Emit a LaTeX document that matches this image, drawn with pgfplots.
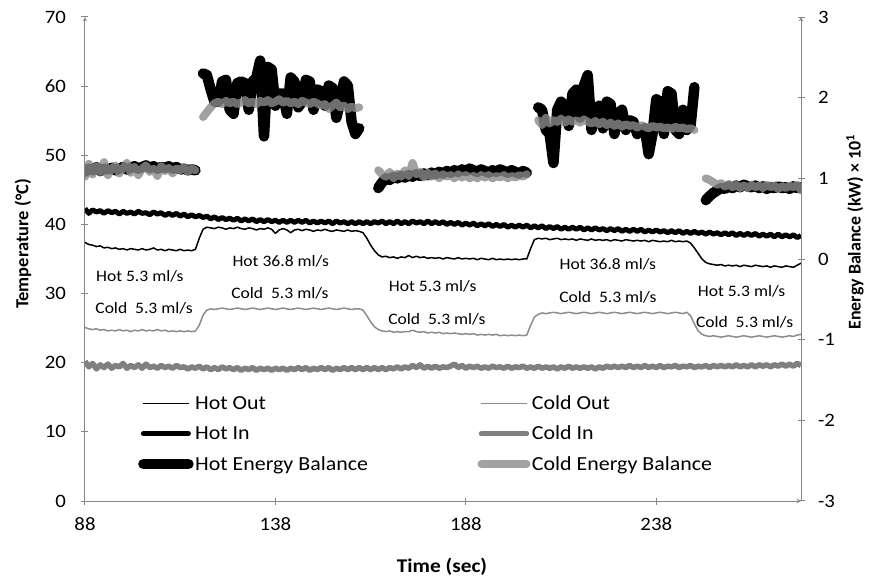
\documentclass[border=0pt]{standalone}
\usepackage{pgfplots}
\pgfplotsset{compat=1.18}
\usepackage{pgfplotstable}
\usepackage{fontspec}
\setmainfont{Carlito}[FakeStretch=1.1]
\newfontfamily\plainfont{Carlito}
\definecolor{axgray}{RGB}{134,134,134}
\definecolor{coldout}{RGB}{140,140,140}
\definecolor{coldin}{RGB}{128,128,128}
\definecolor{coldeb}{RGB}{138,138,138}
\tikzset{ann/.style={font=\fontsize{16}{19}\selectfont}}

\pgfplotstableread{
t ho hi co ci he ce
88 37.4 42.3 25.1 20.2 1.08 1.02
89 37.1 41.6 24.9 19.4 1.12 1.18
90 37.0 42.1 24.8 19.9 1.10 1.05
91 36.8 41.8 24.9 19.1 1.14 1.15
92 36.9 42.0 24.7 19.7 1.09 1.08
93 36.6 41.6 24.8 19.3 1.12 1.20
94 36.7 42.0 24.6 19.8 1.11 1.04
95 36.5 41.7 24.7 19.2 1.13 1.12
96 36.6 41.9 24.6 19.6 1.10 1.16
97 36.4 41.5 24.8 19.4 1.12 1.06
98 36.5 41.9 24.6 19.9 1.14 1.13
99 36.3 41.6 24.7 19.2 1.11 1.19
100 36.5 41.8 24.5 19.6 1.13 1.07
101 36.4 41.5 24.7 19.3 1.15 1.14
102 36.3 41.9 24.6 19.7 1.12 1.04
103 36.5 41.6 24.8 19.2 1.14 1.12
104 36.3 41.7 24.6 19.8 1.16 1.16
105 36.4 41.4 24.7 19.3 1.13 1.08
106 36.6 41.8 24.6 19.5 1.15 1.12
107 36.3 41.5 24.8 19.2 1.12 1.03
108 36.4 41.7 24.6 19.6 1.14 1.15
109 36.2 41.3 24.7 19.3 1.13 1.09
110 36.4 41.6 24.5 19.5 1.15 1.13
111 36.3 41.3 24.6 19.2 1.12 1.06
112 36.2 41.6 24.5 19.6 1.14 1.12
113 36.4 41.2 24.6 19.3 1.11 1.10
114 36.2 41.5 24.5 19.4 1.12 1.14
115 36.3 41.1 24.6 19.1 1.10 1.08
116 36.2 41.4 24.5 19.4 1.11 1.12
117 36.4 41.1 24.6 19.2 1.10 1.10
118 38.0 41.3 25.4 19.5 nan nan
119 39.3 41.0 26.9 19.1 2.30 1.76
120 39.6 41.2 27.6 19.4 2.28 1.82
121 39.5 40.8 27.8 19.0 2.10 1.88
122 39.4 41.1 27.7 19.3 1.95 1.93
123 39.6 40.7 27.8 19.0 1.95 1.95
124 39.5 41.0 27.9 19.4 2.20 1.92
125 39.3 40.7 27.8 19.1 2.22 1.96
126 39.5 40.9 27.7 19.3 1.85 1.93
127 39.4 40.6 27.8 19.0 1.80 1.95
128 39.6 40.9 27.9 19.3 2.18 1.92
129 39.4 40.5 27.8 18.9 2.20 1.94
130 39.3 40.8 27.7 19.2 2.18 1.97
131 39.5 40.5 27.8 19.0 1.85 1.93
132 39.4 40.8 27.9 19.3 2.20 1.95
133 39.2 40.4 27.8 18.9 2.25 1.92
134 39.4 40.7 27.7 19.2 2.46 1.96
135 39.3 40.4 27.8 19.0 1.52 1.94
136 39.5 40.7 27.9 19.2 2.38 1.97
137 39.3 40.4 27.8 18.9 2.35 1.93
138 38.7 40.6 27.7 19.2 1.90 1.95
139 39.2 40.3 27.8 19.0 2.05 1.98
140 39.4 40.6 27.9 19.2 2.05 1.94
141 39.2 40.3 27.8 18.9 1.80 1.96
142 38.8 40.6 27.7 19.2 2.25 1.93
143 39.2 40.3 27.8 19.0 2.20 1.95
144 39.3 40.6 27.9 19.3 1.88 1.92
145 39.1 40.3 27.8 19.0 1.95 1.96
146 39.3 40.6 27.7 19.3 2.22 1.94
147 39.2 40.2 27.8 18.9 2.20 1.92
148 39.0 40.5 27.9 19.2 1.85 1.95
149 39.2 40.2 27.8 19.0 2.10 1.93
150 39.1 40.5 27.7 19.3 2.08 1.90
151 39.3 40.2 27.8 19.0 1.90 1.92
152 39.1 40.5 27.9 19.3 2.15 1.86
153 39.0 40.1 27.8 18.9 2.12 1.90
154 39.2 40.5 27.7 19.2 1.75 1.94
155 39.1 40.2 27.8 19.0 1.95 1.88
156 39.0 40.4 27.9 19.3 2.20 1.90
157 39.2 40.1 27.8 19.0 2.15 1.86
158 39.0 40.4 27.7 19.3 1.70 1.89
159 39.1 40.1 27.8 19.0 1.55 1.87
160 39.0 40.4 27.8 19.3 1.62 1.88
161 38.8 40.1 27.6 19.0 nan nan
162 38.0 40.4 26.8 19.3 nan nan
163 37.0 40.1 25.9 19.0 nan nan
164 36.2 40.4 25.2 19.3 nan nan
165 35.6 40.2 24.8 19.0 0.88 1.10
166 35.3 40.5 24.6 19.3 0.95 1.05
167 35.4 40.1 24.5 19.0 1.00 1.02
168 35.2 40.4 24.6 19.3 0.98 1.08
169 35.3 40.1 24.4 19.1 1.02 1.00
170 35.1 40.5 24.5 19.4 1.00 1.06
171 35.3 40.1 24.4 19.1 1.03 1.02
172 35.2 40.4 24.5 19.4 1.01 1.10
173 35.5 40.1 24.5 19.2 1.04 1.03
174 35.2 40.5 24.7 19.6 1.02 1.19
175 35.4 40.2 24.5 19.3 1.05 1.05
176 35.2 40.4 24.4 19.7 1.03 1.08
177 35.3 40.1 24.5 19.2 1.06 1.01
178 35.1 40.5 24.3 19.5 1.04 1.07
179 35.2 40.1 24.4 19.2 1.07 1.02
180 35.1 40.4 24.3 19.5 1.05 1.06
181 35.2 40.1 24.4 19.2 1.08 1.00
182 35.0 40.4 24.2 19.4 1.06 1.05
183 35.2 40.0 24.3 19.3 1.09 1.02
184 35.1 40.3 24.2 19.5 1.07 1.04
185 35.0 40.0 24.3 19.8 1.10 1.00
186 35.2 40.3 24.2 19.3 1.08 1.05
187 35.0 39.9 24.1 19.6 1.11 1.01
188 35.1 40.2 24.2 19.2 1.09 1.04
189 35.0 39.9 24.1 19.5 1.12 1.00
190 35.1 40.2 24.2 19.3 1.10 1.03
191 34.9 39.8 24.0 19.5 1.08 1.00
192 35.1 40.1 24.1 19.2 1.11 1.04
193 35.0 39.8 24.0 19.4 1.09 1.01
194 34.9 40.1 24.1 19.2 1.07 1.04
195 35.1 39.7 24.0 19.5 1.10 1.00
196 34.9 40.0 24.1 19.3 1.08 1.03
197 35.0 39.7 23.9 19.4 1.11 1.01
198 34.9 40.0 24.0 19.2 1.09 1.04
199 35.0 39.6 23.9 19.5 1.07 1.00
200 34.9 39.9 24.0 19.2 1.10 1.03
201 35.0 39.6 23.9 19.4 1.08 1.01
202 34.9 39.9 24.0 19.3 1.06 1.04
203 35.0 39.6 23.9 19.5 1.09 1.02
204 35.0 39.9 24.0 19.2 1.07 1.05
205 36.5 39.5 25.4 19.4 nan nan
206 37.8 39.8 26.6 19.2 nan nan
207 38.0 39.5 27.0 19.5 1.88 1.72
208 37.9 39.8 27.2 19.2 1.85 1.66
209 38.0 39.4 27.1 19.4 1.60 1.75
210 37.8 39.7 27.2 19.2 1.55 1.68
211 37.9 39.4 27.3 19.4 1.19 1.72
212 38.0 39.7 27.2 19.1 1.85 1.70
213 37.8 39.3 27.1 19.4 1.95 1.74
214 37.9 39.6 27.2 19.2 1.90 1.69
215 37.8 39.3 27.3 19.5 1.65 1.73
216 37.9 39.6 27.2 19.2 2.05 1.70
217 37.7 39.3 27.1 19.4 2.10 1.72
218 37.9 39.6 27.2 19.2 1.75 1.69
219 37.8 39.2 27.3 19.4 2.15 1.73
220 37.7 39.5 27.2 19.2 2.28 1.70
221 37.9 39.2 27.1 19.4 1.60 1.68
222 37.7 39.5 27.2 19.1 1.85 1.71
223 37.8 39.2 27.3 19.4 1.90 1.67
224 37.7 39.4 27.2 19.2 1.62 1.70
225 37.8 39.1 27.1 19.5 1.95 1.66
226 37.6 39.4 27.2 19.3 1.92 1.69
227 37.8 39.1 27.3 19.5 1.55 1.65
228 37.7 39.4 27.2 19.3 1.80 1.68
229 37.6 39.0 27.1 19.5 1.85 1.64
230 37.8 39.3 27.2 19.3 1.60 1.67
231 37.7 39.0 27.3 19.6 1.72 1.65
232 37.6 39.3 27.2 19.3 1.70 1.66
233 37.7 39.0 27.1 19.5 1.55 1.63
234 37.6 39.3 27.2 19.3 1.60 1.66
235 37.7 38.9 27.3 19.6 1.62 1.64
236 37.5 39.2 27.2 19.3 1.30 1.62
237 37.7 38.9 27.1 19.5 1.55 1.65
238 37.6 39.2 27.2 19.3 1.98 1.63
239 37.5 38.9 27.3 19.6 1.95 1.64
240 37.6 39.1 27.2 19.3 1.55 1.62
241 37.5 38.8 27.1 19.5 2.08 1.63
242 37.7 39.1 27.2 19.4 2.05 1.61
243 37.5 38.8 27.3 19.6 1.60 1.64
244 37.6 39.1 27.2 19.3 1.55 1.62
245 37.5 38.7 27.1 19.5 1.85 1.63
246 37.6 39.0 27.3 19.4 1.60 1.61
247 37.3 38.7 26.8 19.6 1.65 1.62
248 36.6 39.0 25.6 19.3 2.13 1.60
249 35.8 38.7 24.6 19.5 nan nan
250 35.0 38.9 24.1 19.4 nan nan
251 34.5 38.6 23.9 19.6 0.73 1.00
252 34.3 38.9 23.8 19.3 0.78 0.98
253 34.2 38.6 23.9 19.6 0.82 0.95
254 34.1 38.8 23.8 19.4 0.85 0.92
255 34.2 38.5 23.7 19.6 0.88 0.94
256 34.0 38.8 23.8 19.4 0.87 0.90
257 34.1 38.5 23.9 19.6 0.90 0.93
258 34.0 38.8 23.8 19.4 0.88 0.89
259 34.1 38.4 23.7 19.7 0.91 0.92
260 33.9 38.7 23.8 19.4 0.89 0.88
261 34.1 38.4 23.9 19.6 0.92 0.91
262 34.0 38.7 23.8 19.4 0.90 0.88
263 33.9 38.4 23.7 19.7 0.89 0.92
264 34.1 38.7 23.8 19.4 0.91 0.89
265 34.0 38.3 23.9 19.7 0.88 0.91
266 33.9 38.6 23.8 19.5 0.90 0.88
267 34.0 38.3 23.7 19.7 0.87 0.92
268 33.8 38.6 23.8 19.4 0.89 0.89
269 34.0 38.2 23.9 19.7 0.88 0.91
270 33.9 38.6 23.8 19.5 0.90 0.87
271 33.8 38.2 23.7 19.8 0.88 0.90
272 34.0 38.5 23.8 19.5 0.89 0.88
273 33.9 38.2 23.9 19.8 0.87 0.91
274 33.8 38.5 23.8 19.5 0.90 0.89
275 34.1 38.1 24.0 19.9 0.88 0.92
276 34.4 38.4 24.1 19.6 0.89 0.85
}\data

\pgfplotsset{
  common/.style={
    scale only axis, width=716bp, height=484bp,
    xmin=88, xmax=276,
    axis line style={axgray, line width=1bp, -},
    tick align=outside, major tick length=7bp,
    tick style={axgray, line width=1bp},
    ticklabel style={font=\fontsize{19}{22}\selectfont},
    /pgf/number format/assume math mode=true,
    /pgf/number format/1000 sep={},
  }
}

\begin{document}
\begin{tikzpicture}
\path[use as bounding box] (-85bp,-76bp) rectangle (784bp,501bp);
\begin{axis}[common,
  ymin=0, ymax=70,
  axis x line=bottom, axis y line=left,
  xtick={88,138,188,238}, ytick={0,10,...,70},
  yticklabel style={xshift=-12bp},
  xticklabel style={yshift=-10bp},
]
\addplot[black, line width=1.5bp, line join=round] table[x=t,y=ho]{\data};
\addplot[coldout, line width=1.5bp, line join=round] table[x=t,y=co]{\data};
\addplot[black, line width=5bp, line join=round] table[x=t,y=hi]{\data};
\addplot[coldin, line width=5.5bp, line join=round] table[x=t,y=ci]{\data};
\node[ann] at (axis cs:102.4,32.5) {Hot 5.3 ml/s};
\node[ann] at (axis cs:103.5,27.9) {Cold\ \ 5.3 ml/s};
\node[ann] at (axis cs:139.4,34.6) {Hot 36.8 ml/s};
\node[ann] at (axis cs:139.2,30.1) {Cold\ \ 5.3 ml/s};
\node[ann] at (axis cs:179.3,31.1) {Hot 5.3 ml/s};
\node[ann] at (axis cs:180.4,26.3) {Cold\ \ 5.3 ml/s};
\node[ann] at (axis cs:225.3,34.3) {Hot 36.8 ml/s};
\node[ann] at (axis cs:225.3,29.4) {Cold\ \ 5.3 ml/s};
\node[ann] at (axis cs:260.4,30.4) {Hot 5.3 ml/s};
\node[ann] at (axis cs:261.2,25.9) {Cold\ \ 5.3 ml/s};
\end{axis}
\begin{axis}[common,
  ymin=-3, ymax=3,
  axis x line=none, axis y line=right,
  ytick={-3,-2,...,3},
  yticklabel style={xshift=10bp},
  unbounded coords=jump,
  legend columns=2,
  legend cell align=left,
  legend image code/.code={\draw[#1, line cap=round] (0bp,0bp) -- (45bp,0bp);},
  legend style={draw=none, fill=none, at={(0.074,0.221)}, anchor=north west,
    font=\fontsize{20}{24}\selectfont, inner sep=0pt, row sep=12bp,
    nodes={inner sep=1.5bp},
    /tikz/every even column/.append style={column sep=108bp}},
]
\addlegendimage{black, line width=1.5bp}
\addlegendentry{Hot Out}
\addlegendimage{coldout, line width=1.5bp}
\addlegendentry{Cold Out}
\addlegendimage{black, line width=5bp}
\addlegendentry{Hot In}
\addlegendimage{coldin, line width=5.5bp}
\addlegendentry{Cold In}
\addplot[black, line width=10.5bp, line join=round, line cap=round] table[x=t,y=he]{\data};
\addlegendentry{Hot Energy Balance}
\addplot[coldeb, draw opacity=0.8, line width=8bp, line join=round, line cap=round] table[x=t,y=ce]{\data};
\addlegendentry{Cold Energy Balance}
\end{axis}
\node[rotate=90, font=\plainfont\bfseries\fontsize{18.5}{22}\selectfont] at (-62bp,257bp) {Temperature (°C)};
\node[font=\bfseries\fontsize{19.5}{23}\selectfont] at (357bp,-66bp) {Time (sec)};
\node[rotate=90, font=\plainfont\bfseries\fontsize{18}{22}\selectfont] at (770bp,269bp) {Energy Balance (kW) × 10\textsuperscript{1}};
\end{tikzpicture}
\end{document}
